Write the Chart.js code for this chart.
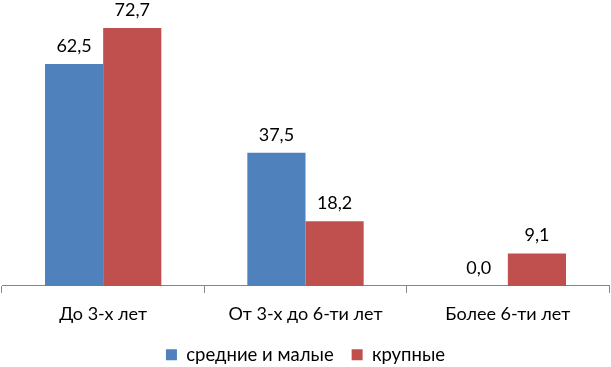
<!DOCTYPE html>
<html>
<head>
<meta charset="utf-8">
<script src="https://cdn.jsdelivr.net/npm/chart.js@4"></script>
<style>
html,body{margin:0;padding:0;background:#fff;}
#wrap{width:611px;height:367px;position:relative;}
</style>
</head>
<body>
<div id="wrap"><canvas id="c" width="611" height="367"></canvas></div>
<script>
const categories = ["До 3-х лет", "От 3-х до 6-ти лет", "Более 6-ти лет"];
const seriesNames = ["средние и малые", "крупные"];
const smallMedium = [62.5, 37.5, 0.0];
const large = [72.7, 18.2, 9.1];

const FONT = "Lato, 'Open Sans', sans-serif";

const labelPlugin = {
  id: 'valueLabels',
  afterDatasetsDraw(chart) {
    const ctx = chart.ctx;
    ctx.save();
    ctx.font = "18px " + FONT;
    ctx.fillStyle = "#000";
    ctx.textAlign = "center";
    ctx.textBaseline = "middle";
    chart.data.datasets.forEach((ds, i) => {
      const meta = chart.getDatasetMeta(i);
      meta.data.forEach((bar, j) => {
        const v = ds.data[j];
        ctx.fillText(v.toFixed(1).replace('.', ','), bar.x, bar.y - 18);
      });
    });
    ctx.restore();
  }
};

new Chart(document.getElementById('c'), {
  type: 'bar',
  data: {
    labels: categories,
    datasets: [
      { label: seriesNames[0], data: smallMedium, backgroundColor: '#4F81BD', categoryPercentage: 0.575, barPercentage: 1.0 },
      { label: seriesNames[1], data: large, backgroundColor: '#C0504D', categoryPercentage: 0.575, barPercentage: 1.0 }
    ]
  },
  options: {
    responsive: false,
    animation: false,
    layout: { padding: { left: 2, right: 2, top: 2, bottom: -7 } },
    scales: {
      x: {
        grid: { display: true, offset: true, drawOnChartArea: false, tickLength: 7, color: '#868686' },
        border: { display: true, color: '#868686' },
        ticks: { font: { family: FONT, size: 18 }, color: '#000', padding: 10 },
        afterFit(scale) { scale.height -= 7; }
      },
      y: { display: false, min: 0, max: 80 }
    },
    plugins: {
      legend: {
        position: 'bottom',
        labels: { boxWidth: 11, boxHeight: 11, font: { family: FONT, size: 18.5 }, color: '#000', padding: 18 }
      },
      tooltip: { enabled: false }
    }
  },
  plugins: [labelPlugin]
});
</script>
</body>
</html>
